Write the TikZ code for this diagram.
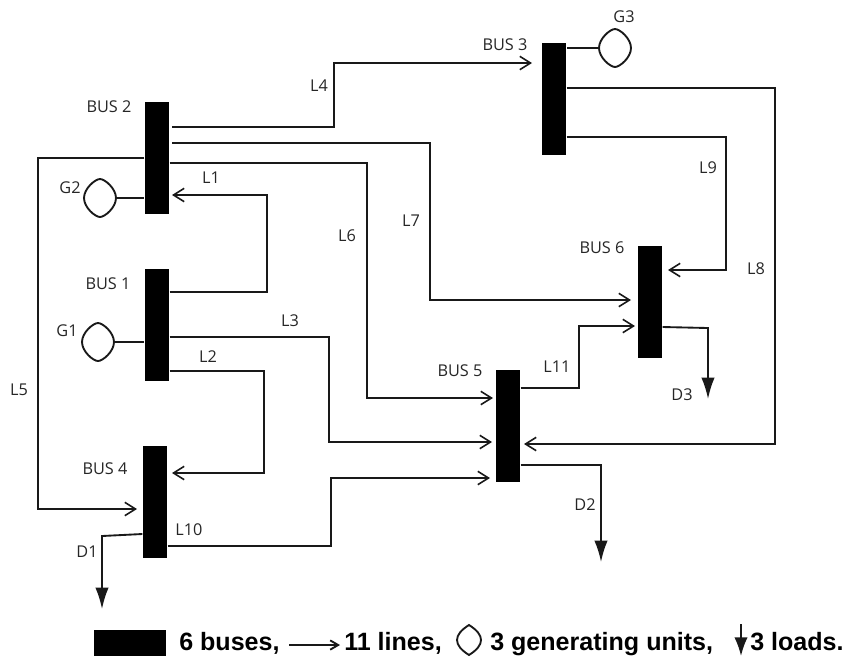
\documentclass[tikz,border=0pt]{standalone}
\usepackage{fontspec}
\setmainfont{Open Sans}
\newfontfamily\legendfont{Liberation Sans}
\usetikzlibrary{arrows.meta}
\tikzset{
  x=0.75pt,y=-0.75pt,
  busbar/.style={draw=none,fill=black,inner sep=0pt,minimum width=18.5pt,minimum height=84pt},
  wire/.style={draw=black!90,line width=1.4pt,line join=miter},
  line/.style={wire,-{Straight Barb[length=8pt,width=10pt,line width=1.2pt]}},
  load/.style={wire,-{Latex[length=16pt,width=10pt]}},
  lab/.style={inner sep=0pt,font=\fontsize{12.2pt}{14pt}\selectfont,text=black!85},
  genunit/.style={circle,inner sep=0pt,minimum size=20pt},
  leg/.style={inner sep=0pt,anchor=base west,font=\legendfont\bfseries\fontsize{18.8pt}{22pt}\selectfont}
}
\newcommand{\lensshape}[3]{%
  \draw[wire,shift={(#1.center)}] (0,-#3) .. controls (#2*0.3,-#3) and (#2,-#3*0.5) .. (#2,0)
    .. controls (#2,#3*0.5) and (#2*0.3,#3) .. (0,#3)
    .. controls (-#2*0.3,#3) and (-#2,#3*0.5) .. (-#2,0)
    .. controls (-#2,-#3*0.5) and (-#2*0.3,-#3) .. (0,-#3) -- cycle;}
\begin{document}
\begin{tikzpicture}
\useasboundingbox (0,0) rectangle (848,658);
% buses
\node[busbar] (B2) at (157,158) {};
\node[busbar] (B1) at (157,324.5) {};
\node[busbar] (B4) at (155,502) {};
\node[busbar] (B3) at (554,99) {};
\node[busbar] (B6) at (650,302) {};
\node[busbar] (B5) at (508,425.5) {};
% generators
\node[genunit] (G3) at (615,48) {};
\node[genunit] (G2) at (100,198) {};
\node[genunit] (G1) at (98,342) {};
\lensshape{G3}{16}{19}
\lensshape{G2}{16}{19}
\lensshape{G1}{16}{19}
\draw[wire] (599,48) -- (B3.east |- 0,48);
\draw[wire] (116,198) -- (B2.west |- 0,198);
\draw[wire] (114,342) -- (B1.west |- 0,342);
% free ends
\coordinate (E4) at (532,63);
\coordinate (E7) at (631,300);
\coordinate (E6) at (493,398);
\coordinate (E5) at (137,509);
\coordinate (E1) at (172,195);
\coordinate (E3) at (492,442);
\coordinate (E2) at (172,473);
\coordinate (E10) at (490,478);
\coordinate (E11) at (635,326);
\coordinate (E8) at (524,444);
\coordinate (E9) at (668,270);
% lines
\draw[line] (172,127) -- (334,127) -- (334,63) -- (E4);
\draw[line] (172,143) -- (430,143) -- (430,300) -- (E7);
\draw[line] (B2.east |- 0,163) -- (367,163) -- (367,398) -- (E6);
\draw[line] (B2.west |- 0,158) -- (38,158) -- (38,509) -- (E5);
\draw[line] (B1.east |- 0,292) -- (267,292) -- (267,195) -- (E1);
\draw[line] (B1.east |- 0,337) -- (329,337) -- (329,442) -- (E3);
\draw[line] (B1.east |- 0,371) -- (264,371) -- (264,473) -- (E2);
\draw[line] (B4.east |- 0,546) -- (331,546) -- (331,478) -- (E10);
\draw[line] (B5.east |- 0,388) -- (579,388) -- (579,326) -- (E11);
\draw[line] (B3.east |- 0,88) -- (775,88) -- (775,444) -- (E8);
\draw[line] (B3.east |- 0,137) -- (726,137) -- (726,270) -- (E9);
% loads
\coordinate (D1e) at (102,609);
\coordinate (D2e) at (601,562);
\coordinate (D3e) at (708,399);
\draw[load] (B4.west |- 0,534) -- (102,536) -- (D1e);
\draw[load] (B5.east |- 0,465) -- (601,465) -- (D2e);
\draw[load] (B6.east |- 0,327) -- (708,328) -- (D3e);
% labels
\node[lab] (tB2) at (109,107) {BUS 2};
\node[lab] (tB1) at (108,284) {BUS 1};
\node[lab] (tB4) at (105,469) {BUS 4};
\node[lab] (tB3) at (505,45) {BUS 3};
\node[lab] (tB6) at (602,248) {BUS 6};
\node[lab] (tB5) at (460,371) {BUS 5};
\node[lab] (tG3) at (624,17) {G3};
\node[lab] (tG2) at (70,188) {G2};
\node[lab] (tG1) at (67,331) {G1};
\node[lab] (tL1) at (211,178) {L1};
\node[lab] (tL2) at (208,357) {L2};
\node[lab] (tL3) at (290,321) {L3};
\node[lab] (tL4) at (319,86) {L4};
\node[lab] (tL5) at (19,390) {L5};
\node[lab] (tL6) at (347,236) {L6};
\node[lab] (tL7) at (411,221) {L7};
\node[lab] (tL8) at (756,269) {L8};
\node[lab] (tL9) at (708,168) {L9};
\node[lab] (tL10) at (189,530) {L10};
\node[lab] (tL11) at (557,367) {L11};
\node[lab] (tD1) at (87,552) {D1};
\node[lab] (tD2) at (585,505) {D2};
\node[lab] (tD3) at (682,395) {D3};
% legend
\node[draw=none,fill=black,inner sep=0pt,minimum width=54pt,minimum height=20pt] (LB) at (130,643) {};
\node[leg] (T1) at (179,650) {6 buses,};
\coordinate (LA1) at (289,645);
\coordinate (LA2) at (340,645);
\draw[wire,-{Straight Barb[length=6pt,width=7pt]}] (LA1) -- (LA2);
\node[leg] (T2) at (344,650) {11 lines,};
\node[genunit,minimum size=10pt] (LG) at (469,640) {};
\draw[wire,shift={(LG.center)}] (0,-15) .. controls (8,-10) and (12,-5) .. (12,0) .. controls (12,5) and (8,10) .. (0,15) .. controls (-8,10) and (-12,5) .. (-12,0) .. controls (-12,-5) and (-8,-10) .. (0,-15) -- cycle;
\node[leg] (T3) at (490,650) {3 generating units,};
\coordinate (LL1) at (741,624);
\coordinate (LL2) at (741,656);
\draw[load,-{Latex[length=14pt,width=10pt]}] (LL1) -- (LL2);
\node[leg] (T4) at (750,650) {3 loads.};
\end{tikzpicture}
\end{document}
